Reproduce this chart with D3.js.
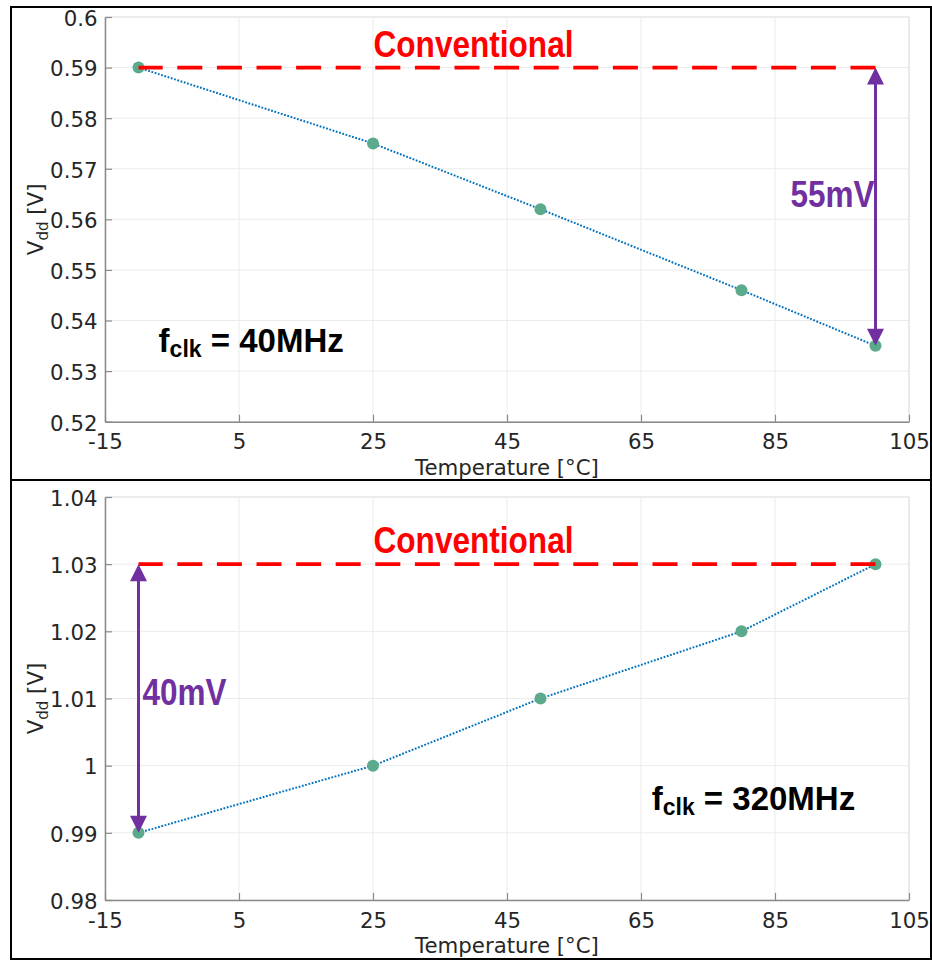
<!DOCTYPE html>
<html>
<head>
<meta charset="utf-8">
<script src="https://cdn.jsdelivr.net/npm/d3@7/dist/d3.min.js"></script>
<style>
  html, body { margin: 0; padding: 0; background: #fff; }
  svg { display: block; }
  .axis-text { font-family: 'DejaVu Sans', sans-serif; }
</style>
</head>
<body>
<svg id="chart" width="932" height="960"></svg>
<script>
// Supply voltage versus temperature at two clock frequencies
const temperatures = [-10, 25, 50, 80, 100];
const vdd40MHz = [0.59, 0.575, 0.562, 0.546, 0.535];
const vdd320MHz = [0.99, 1.0, 1.01, 1.02, 1.03];

// Conventional (temperature-independent) supply level for each case
const conventional40MHz = 0.59;
const conventional320MHz = 1.03;

// Axis ticks
const xTicks = [-15, 5, 25, 45, 65, 85, 105];
const xTickLabels = ["-15", "5", "25", "45", "65", "85", "105"];
const yTicks40MHz = [0.52, 0.53, 0.54, 0.55, 0.56, 0.57, 0.58, 0.59, 0.6];
const yTickLabels40MHz = ["0.52", "0.53", "0.54", "0.55", "0.56", "0.57", "0.58", "0.59", "0.6"];
const yTicks320MHz = [0.98, 0.99, 1.0, 1.01, 1.02, 1.03, 1.04];
const yTickLabels320MHz = ["0.98", "0.99", "1", "1.01", "1.02", "1.03", "1.04"];

const svg = d3.select("#chart");

// Outer frame and panel divider
svg.append("rect")
  .attr("x", 11).attr("y", 7).attr("width", 920).attr("height", 952)
  .attr("fill", "none").attr("stroke", "#000").attr("stroke-width", 2);
svg.append("line")
  .attr("x1", 11).attr("x2", 932).attr("y1", 480).attr("y2", 480)
  .attr("stroke", "#000").attr("stroke-width", 2);

const PURPLE = "#7030A0";
const RED = "#FF0000";
const ANNOT_FONT = "'Liberation Sans', Arial, sans-serif";
const AXIS_FS = "21.3px";

const panels = [
  {
    top: 17, bottom: 421.7,
    yDomain: [0.52, 0.6], yTicks: yTicks40MHz, yLabels: yTickLabels40MHz,
    values: vdd40MHz, conventional: conventional40MHz,
    arrowAt: 100, arrowEnd: vdd40MHz[vdd40MHz.length - 1],
    deltaSide: "left",
    freq: "40MHz", freqPos: [-7, 0.5338]
  },
  {
    top: 497, bottom: 900,
    yDomain: [0.98, 1.04], yTicks: yTicks320MHz, yLabels: yTickLabels320MHz,
    values: vdd320MHz, conventional: conventional320MHz,
    arrowAt: -10, arrowEnd: vdd320MHz[0],
    deltaSide: "right",
    freq: "320MHz", freqPos: [66.6, 0.9934]
  }
];

const left = 105, right = 909;

panels.forEach(p => {
  const x = d3.scaleLinear().domain([-15, 105]).range([left, right]);
  const y = d3.scaleLinear().domain(p.yDomain).range([p.bottom, p.top]);
  const g = svg.append("g");

  // Grid
  g.append("g").selectAll("line").data(xTicks).join("line")
    .attr("x1", d => x(d)).attr("x2", d => x(d))
    .attr("y1", p.top).attr("y2", p.bottom)
    .attr("stroke", "#ebebeb").attr("stroke-width", 1);
  g.append("g").selectAll("line").data(p.yTicks).join("line")
    .attr("x1", left).attr("x2", right)
    .attr("y1", d => y(d)).attr("y2", d => y(d))
    .attr("stroke", "#ebebeb").attr("stroke-width", 1);

  // Light box edges on top and right
  g.append("path")
    .attr("d", `M${left},${p.top}H${right}V${p.bottom}`)
    .attr("fill", "none").attr("stroke", "#e3e3e3").attr("stroke-width", 1.2);

  // Axes
  const xAxis = d3.axisBottom(x).tickValues(xTicks)
    .tickFormat((d, i) => xTickLabels[i])
    .tickSizeInner(-7).tickSizeOuter(0).tickPadding(12.4);
  const yAxis = d3.axisLeft(y).tickValues(p.yTicks)
    .tickFormat((d, i) => p.yLabels[i])
    .tickSizeInner(-7).tickSizeOuter(0).tickPadding(7.5);

  const gx = g.append("g").attr("transform", `translate(0,${p.bottom})`).call(xAxis);
  const gy = g.append("g").attr("transform", `translate(${left},0)`).call(yAxis);
  [gx, gy].forEach(a => {
    a.attr("font-family", null).attr("font-size", null);
    a.select(".domain").attr("stroke", "#8a8a8a").attr("stroke-width", 1.5);
    a.selectAll(".tick line").attr("stroke", "#8a8a8a").attr("stroke-width", 1.2);
    a.selectAll(".tick text")
      .attr("class", "axis-text")
      .style("font-size", AXIS_FS).attr("fill", "#262626");
  });
  gy.selectAll(".tick text").attr("dy", "0.39em");

  // Axis titles
  g.append("text")
    .attr("class", "axis-text")
    .attr("x", (left + right) / 2).attr("y", p.bottom + 53)
    .attr("text-anchor", "middle")
    .style("font-size", AXIS_FS).attr("fill", "#262626")
    .text("Temperature [°C]");
  const yl = g.append("text")
    .attr("class", "axis-text")
    .attr("transform", `translate(43,${(p.top + p.bottom) / 2}) rotate(-90)`)
    .attr("text-anchor", "middle")
    .style("font-size", AXIS_FS).attr("fill", "#262626");
  yl.append("tspan").text("V");
  yl.append("tspan").style("font-size", "15px").attr("dy", 5).text("dd");
  yl.append("tspan").attr("dy", -5).text(" [V]");

  // Measured series: dotted line with round markers
  const pts = temperatures.map((t, i) => [t, p.values[i]]);
  g.append("path")
    .datum(pts)
    .attr("d", d3.line().x(d => x(d[0])).y(d => y(d[1])))
    .attr("fill", "none").attr("stroke", "#0072BD")
    .attr("stroke-width", 2).attr("stroke-dasharray", "1.8 1.6");
  g.append("g").selectAll("circle").data(pts).join("circle")
    .attr("cx", d => x(d[0])).attr("cy", d => y(d[1])).attr("r", 6)
    .attr("fill", "#5BAA8C");

  // Conventional supply level (dash pattern starts from the right end)
  g.append("line")
    .attr("x1", x(temperatures[temperatures.length - 1])).attr("x2", x(temperatures[0]))
    .attr("y1", y(p.conventional)).attr("y2", y(p.conventional))
    .attr("stroke", RED).attr("stroke-width", 3.6)
    .attr("stroke-dasharray", "25 14.6");
  g.append("text")
    .attr("x", x(40) - 100).attr("y", y(p.conventional) - 11)
    .attr("textLength", 200).attr("lengthAdjust", "spacingAndGlyphs")
    .attr("font-family", ANNOT_FONT)
    .attr("font-weight", "bold").attr("font-size", 36).attr("fill", RED)
    .text("Conventional");

  // Double-headed arrow between conventional level and the measured extreme
  const ax = x(p.arrowAt);
  const yA = y(p.conventional), yB = y(p.arrowEnd);
  const dir = yB > yA ? 1 : -1;
  const head = 17, hw = 8.5;
  g.append("line")
    .attr("x1", ax).attr("x2", ax)
    .attr("y1", yA + dir * head * 0.8).attr("y2", yB - dir * head * 0.8)
    .attr("stroke", PURPLE).attr("stroke-width", 3);
  g.append("path")
    .attr("d", `M${ax},${yA}L${ax - hw},${yA + dir * head}L${ax + hw},${yA + dir * head}Z`)
    .attr("fill", PURPLE);
  g.append("path")
    .attr("d", `M${ax},${yB}L${ax - hw},${yB - dir * head}L${ax + hw},${yB - dir * head}Z`)
    .attr("fill", PURPLE);

  const deltaMv = Math.round(Math.abs(p.conventional - p.arrowEnd) * 1000);
  const deltaWidth = 84;
  g.append("text")
    .attr("x", p.deltaSide === "left" ? ax - 1 - deltaWidth : ax + 4)
    .attr("y", (yA + yB) / 2 + (p.deltaSide === "left" ? 0 : 6.5))
    .attr("textLength", deltaWidth).attr("lengthAdjust", "spacingAndGlyphs")
    .attr("font-family", ANNOT_FONT)
    .attr("font-weight", "bold").attr("font-size", 37).attr("fill", PURPLE)
    .text(deltaMv + "mV");

  // Clock frequency label
  const ft = g.append("text")
    .attr("x", x(p.freqPos[0])).attr("y", y(p.freqPos[1]))
    .attr("font-family", ANNOT_FONT)
    .attr("font-weight", "bold").attr("font-size", 33).attr("fill", "#000");
  ft.append("tspan").text("f");
  ft.append("tspan").attr("font-size", 23).attr("dy", 5).text("clk");
  ft.append("tspan").attr("dy", -5).text(" = " + p.freq);
});
</script>
</body>
</html>
